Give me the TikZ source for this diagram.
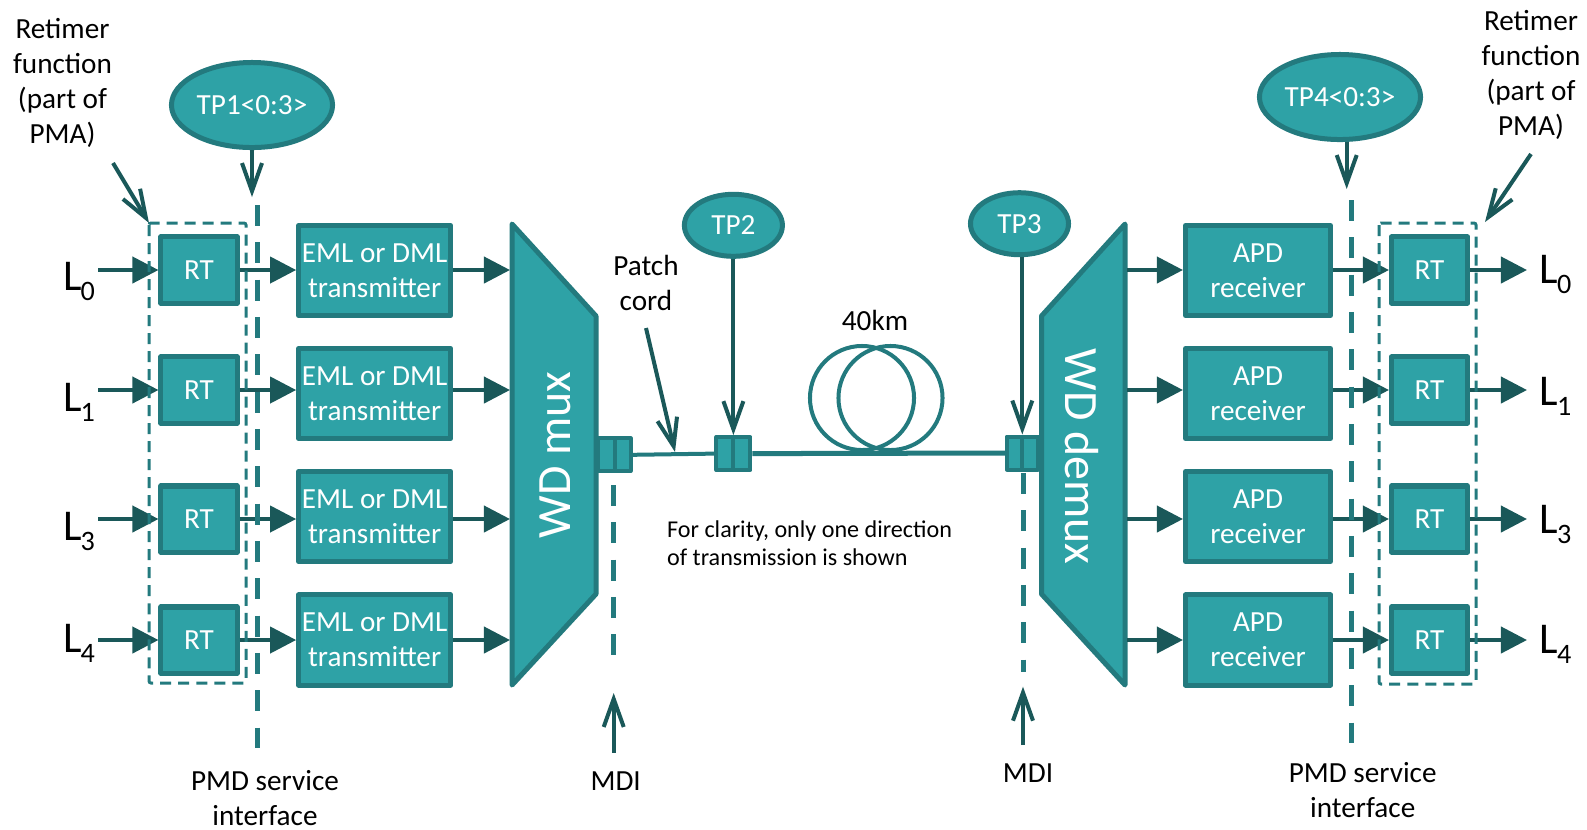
\documentclass[tikz,border=0pt]{standalone}
\usepackage{fontspec}
\setmainfont{Carlito}
\usetikzlibrary{arrows.meta,shapes.geometric}

\definecolor{tealfill}{HTML}{2EA2A6}
\definecolor{tealedge}{HTML}{237A7E}
\definecolor{tealdark}{HTML}{1A5859}

\newcommand{\lanelabel}[1]{L\kern-.3pt\raisebox{-2.85pt}{\fontsize{8}{9}\selectfont #1}}

\tikzset{
  blockbase/.style={draw=tealedge,fill=tealfill,line width=.05cm,line join=round,inner sep=0pt,text=white,align=center,font=\fontsize{8.3}{9.96}\selectfont},
  rtbox/.style={blockbase,minimum width=.76cm,minimum height=.66cm},
  txbox/.style={blockbase,minimum width=1.52cm,minimum height=.9cm},
  rxbox/.style={blockbase,minimum width=1.45cm,minimum height=.9cm},
  tpbig/.style={blockbase,ellipse,minimum width=1.61cm,minimum height=.85cm},
  tpsmall/.style={blockbase,ellipse,minimum width=.98cm,minimum height=.62cm},
  plug/.style={draw=tealedge,fill=tealfill,line width=.04cm,line join=round,inner sep=0pt,minimum width=.31cm,minimum height=.33cm},
  spool/.style={circle,draw=tealedge,line width=.04cm,inner sep=0pt,minimum size=1.04cm},
  wdshape/.style={draw=tealedge,fill=tealfill,line width=.05cm,line join=round},
  wdtext/.style={text=white,inner sep=0pt,font=\fontsize{13.6}{16}\selectfont},
  sig/.style={draw=tealdark,line width=.04cm,-{Triangle[length=.26cm,width=.26cm]}},
  pointer/.style={draw=tealdark,line width=.04cm,-{Straight Barb[length=.28cm,width=.2cm]}},
  fibre/.style={draw=tealedge,line width=.04cm},
  iface/.style={draw=tealedge,line width=.05cm,dash pattern=on .21cm off .163cm},
  retimerbox/.style={draw=tealedge,line width=.03cm,dash pattern=on .11cm off .07cm},
  note/.style={align=center,inner sep=0pt,font=\fontsize{8.3}{9.96}\selectfont},
  lane/.style={anchor=base west,inner sep=0pt,font=\fontsize{12.5}{15}\selectfont}
}

\begin{document}
\begin{tikzpicture}[x=0.01cm,y=-0.01cm]

\useasboundingbox (0,0) rectangle (1587,829);

\draw[wdshape] (512,224) -- (596,316) -- (596,594) -- (512,685) -- cycle;
\node[wdtext,rotate=90] (muxlabel) at (555.5,455) {WD mux};
\draw[wdshape] (1125,224) -- (1041.5,316) -- (1041.5,594) -- (1125,685) -- cycle;
\node[wdtext,rotate=-90] (demuxlabel) at (1081.7,456.5) {WD demux};
\coordinate (muxedge) at (510,0);
\coordinate (demuxedge) at (1127,0);

\foreach \n/\y/\ty/\ly in {0/270/270.5/290,1/390/393.5/411,3/519/516.5/540,4/640/640/652} {
  \coordinate (inl\n) at (98,\y);
  \node[rtbox] (rtl\n) at (199,\y) {RT};
  \node[txbox] (tx\n) at (374.7,\ty) {EML or DML\\transmitter};
  \node[lane] (laneL\n) at (62.5,\ly) {\lanelabel{\n}};
  \draw[sig] (inl\n) -- (rtl\n.west);
  \draw[sig] (rtl\n.east) -- (rtl\n.east -| tx\n.west);
  \draw[sig] (tx\n.east |- rtl\n) -- (rtl\n -| muxedge);
}

\foreach \n/\y/\ty/\ly in {0/270/270.5/283,1/390/393.5/405,3/519/516.5/533,4/640/640/653} {
  \node[rxbox] (rx\n) at (1258,\ty) {APD\\receiver};
  \node[rtbox] (rtr\n) at (1429.5,\y) {RT};
  \coordinate (outr\n) at (1527,\y);
  \node[lane] (laneR\n) at (1539,\ly) {\lanelabel{\n}};
  \draw[sig] (rtr\n -| demuxedge) -- (rtr\n -| rx\n.west);
  \draw[sig] (rtr\n -| rx\n.east) -- (rtr\n.west);
  \draw[sig] (rtr\n.east) -- (outr\n);
}

\node[plug,minimum width=.32cm] (plug1) at (614.5,454.8) {};
\node[plug,minimum width=.34cm] (plug2) at (733.4,453.6) {};
\node[plug] (plug3) at (1022.3,453) {};
\foreach \p in {plug1,plug2,plug3} \draw[fibre] (\p.north) -- (\p.south);
\draw[fibre] (plug1.east) -- (plug2.west);
\draw[fibre,line width=.05cm] (plug2.east) -- (plug3.west);
\node[spool] (coilA) at (862,398) {};
\node[spool] (coilB) at (890.5,398) {};

\node[tpbig] (tp1) at (252,105) {TP1<0:3>};
\node[tpsmall] (tp2) at (733.4,225.3) {TP2};
\node[tpsmall] (tp3) at (1019.5,223.7) {TP3};
\node[tpbig] (tp4) at (1340,97) {TP4<0:3>};

\coordinate (tp1tip) at (252,197);
\coordinate (tp4tip) at (1346.7,189);
\draw[pointer] (tp1) -- (tp1tip);
\draw[pointer] (tp2.south) -- (plug2.north);
\draw[pointer] (tp3.south -| plug3.north) -- (plug3.north);
\draw[pointer] (tp4.south -| tp4tip) -- (tp4tip);

\coordinate (pmdLtop) at (257.6,205);
\coordinate (pmdLbot) at (257.6,748);
\coordinate (pmdRtop) at (1351,200);
\coordinate (pmdRbot) at (1351,743);
\coordinate (mdiLtop) at (613.7,485);
\coordinate (mdiLbot) at (613.7,656);
\coordinate (mdiRtop) at (1023,473);
\coordinate (mdiRbot) at (1023,672);
\draw[iface] (pmdLtop) -- (pmdLbot);
\draw[iface] (pmdRtop) -- (pmdRbot);
\draw[iface] (mdiLtop) -- (mdiLbot);
\draw[iface] (mdiRtop) -- (mdiRbot);

\draw[retimerbox,rounded corners=.02cm] (149,223) rectangle (246,683);
\draw[retimerbox,rounded corners=.02cm] (1379,223) rectangle (1476,684);

\node[note] (retimerL) at (62.5,83) {Retimer\\function\\(part of\\PMA)};
\node[note] (retimerR) at (1531,75) {Retimer\\function\\(part of\\PMA)};
\coordinate (retimerLtail) at (113,163);
\coordinate (retimerLtip) at (149,223);
\coordinate (retimerRtail) at (1531,154);
\coordinate (retimerRtip) at (1485,222);
\draw[pointer] (retimerLtail) -- (retimerLtip);
\draw[pointer] (retimerRtail) -- (retimerRtip);

\node[note] (patch) at (646,282.5) {Patch\\cord};
\coordinate (patchtail) at (646,328);
\coordinate (patchtip) at (675,452);
\draw[pointer] (patchtail) -- (patchtip);
\node[note] (length) at (875,320) {40km};
\node[note,anchor=west,align=left,font=\fontsize{6.86}{7.88}\selectfont] (clarity) at (666.5,543) {For clarity, only one direction\\of transmission is shown};

\node[note] (pmdL) at (265,798.5) {PMD service\\interface};
\node[note] (pmdR) at (1362.7,790) {PMD service\\interface};
\node[note] (mdiL) at (615.7,781.5) {MDI};
\node[note] (mdiR) at (1028,773.5) {MDI};
\coordinate (mdiLtail) at (613.7,752.7);
\coordinate (mdiLtip) at (613.7,693);
\coordinate (mdiRtail) at (1023,745);
\coordinate (mdiRtip) at (1023,686.7);
\draw[pointer] (mdiLtail) -- (mdiLtip);
\draw[pointer] (mdiRtail) -- (mdiRtip);

\end{tikzpicture}
\end{document}
